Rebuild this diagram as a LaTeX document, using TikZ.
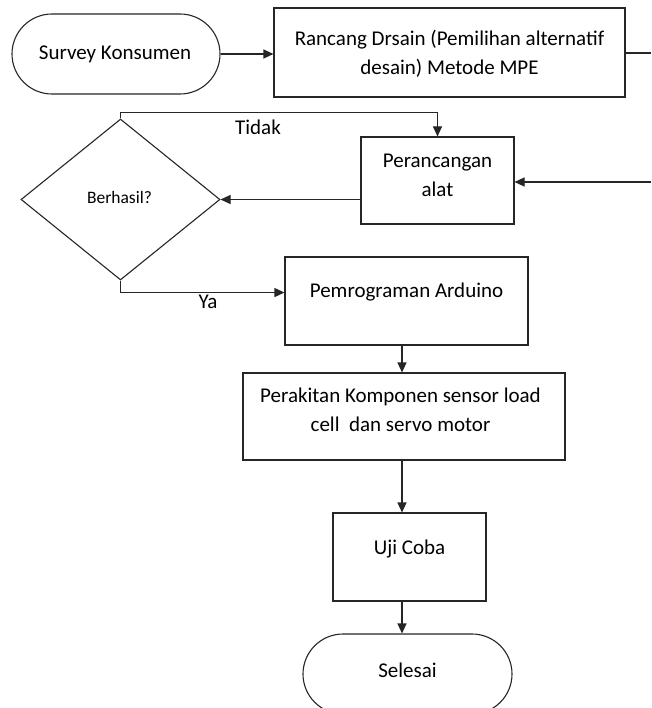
\documentclass[tikz,border=0pt]{standalone}
\usepackage{fontspec}
\setmainfont{Carlito}
\usetikzlibrary{shapes.geometric,arrows.meta,calc}
\begin{document}
\begin{tikzpicture}[x=1pt,y=-1pt,
  line/.style={draw=black!85,line width=1.1pt},
  arr/.style={line,-{Triangle[length=10pt,width=9pt]}},
  stepbox/.style={line,rectangle,inner sep=0pt},
  term/.style={line,rectangle,rounded corners=40pt,inner sep=0pt},
  txt/.style={align=center,inner sep=0pt,font=\fontsize{21}{29}\selectfont},
  lbl/.style={inner sep=0pt,font=\fontsize{21}{25}\selectfont}]
\useasboundingbox (0,0) rectangle (651,708);
\clip (0,0) rectangle (651,708);
\fill[white] (0,0) rectangle (651,708);
% nodes
\node[term,minimum width=208pt,minimum height=80pt] (survey) at (116,54) {};
\node[txt] (surveyt) at (115,54) {Survey Konsumen};
\node[stepbox,minimum width=351pt,minimum height=89pt] (rancang) at (449.5,52.5) {};
\node[txt] (rancangt) at (449.5,54) {Rancang Drsain (Pemilihan alternatif\\desain) Metode MPE};
\node[stepbox,minimum width=153pt,minimum height=87pt] (per) at (437.5,180.5) {};
\node[txt] (pert) at (437.5,175) {Perancangan\\alat};
\node[line,diamond,minimum width=199pt,minimum height=161pt,inner sep=0pt] (dec) at (120.5,199.5) {};
\node[inner sep=0pt,font=\fontsize{17.5}{20}\selectfont] (dect) at (119.5,197) {Berhasil?};
\node[stepbox,minimum width=243pt,minimum height=88pt] (pem) at (406.5,301) {};
\node[txt] (pemt) at (406.5,292) {Pemrograman Arduino};
\node[stepbox,minimum width=322pt,minimum height=87pt] (rak) at (404,416.5) {};
\node[txt] (rakt) at (400.5,410) {Perakitan Komponen sensor load\\cell\ \ dan servo motor};
\node[stepbox,minimum width=153pt,minimum height=88pt] (uji) at (409.5,557) {};
\node[txt] (ujit) at (409.5,549) {Uji Coba};
\node[term,minimum width=209pt,minimum height=80pt] (sel) at (407.5,674) {};
\node[txt] (selt) at (407.5,670) {Selesai};
\node[lbl] (tidak) at (258,127) {Tidak};
\node[lbl] (ya) at (208,302) {Ya};
% helper coordinates
\coordinate (col) at (402,0);
\coordinate (edgeA) at (651,53);
\coordinate (edgeB) at (651,182);
% connectors
\draw[arr] (survey.east) -- (survey.east -| rancang.west);
\draw[line] (rancang.east |- edgeA) -- (edgeA);
\draw[arr] (edgeB) -- (edgeB -| per.east);
\draw[arr] (dec.east -| per.west) -- (dec.east);
\draw[arr] (dec.north) -- ++(0,-6) -| (per.north);
\draw[arr] (dec.south) -- ++(0,12) coordinate (yac) -- (yac -| pem.west);
\draw[arr] (pem.south -| col) -- (rak.north -| col);
\draw[arr] (rak.south -| col) -- (uji.north -| col);
\draw[arr] (uji.south -| col) -- (sel.north -| col);
\end{tikzpicture}
\end{document}
